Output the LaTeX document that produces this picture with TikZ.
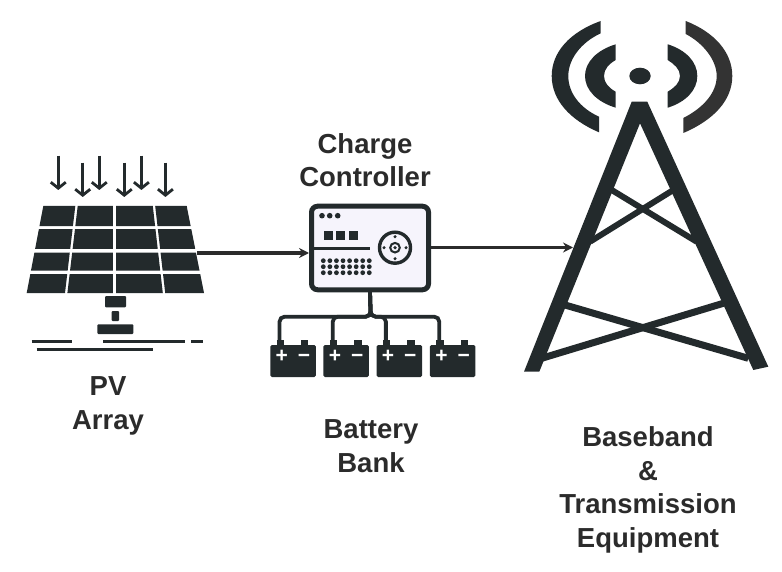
\documentclass[tikz,border=0pt]{standalone}
\usepackage{fontspec}
\setmainfont{Liberation Sans}
\usetikzlibrary{arrows.meta,calc}
\definecolor{icondark}{HTML}{232A2C}
\definecolor{textdark}{HTML}{2B2B2B}
\definecolor{wavegrey}{HTML}{333333}
\definecolor{screenfill}{HTML}{F6F4FC}
\tikzset{
  caption/.style={align=center,text=textdark,font=\fontsize{27.5}{33.5}\selectfont\bfseries},
  link/.style={draw=textdark,line width=3.2,-{Stealth[length=10,width=10]}},
  sunray/.style={draw=icondark,line width=2.8,-{Straight Barb[length=6,width=15,line width=2.8]}},
  busline/.style={draw=icondark,line width=3.8,rounded corners=5},
  groundline/.style={draw=icondark,line width=3},
  batbody/.style={fill=icondark,rounded corners=1.5,minimum width=45.5,minimum height=32,inner sep=0},
  batsign/.style={text=white,inner sep=0,font=\fontsize{21}{21}\selectfont\bfseries},
  brace/.style={draw=icondark,line width=6}
}
\begin{document}
\begin{tikzpicture}[x=1pt,y=-1pt]
  \useasboundingbox (0,0) rectangle (782,572);

  % pv array
  \coordinate (t0) at (43.3,206);   \coordinate (b0) at (26.7,293);
  \coordinate (t1) at (76.5,206);   \coordinate (b1) at (66.2,293);
  \coordinate (t2) at (114.5,206);  \coordinate (b2) at (114.5,293);
  \coordinate (t3) at (154,206);    \coordinate (b3) at (164,293);
  \coordinate (t4) at (186.7,206);  \coordinate (b4) at (204,293);
  \foreach \ra/\rb in {0/0.23,0.267/0.494,0.535/0.742,0.782/1}
    \foreach \ca/\cb/\ga/\gb in {0/1/0/1.2,1/2/1.2/1.6,2/3/1.6/1.2,3/4/1.2/0}
      \fill[icondark]
        ($(t\ca)!\ra!(b\ca)+(\ga,0)$) -- ($(t\cb)!\ra!(b\cb)+(-\gb,0)$) --
        ($(t\cb)!\rb!(b\cb)+(-\gb,0)$) -- ($(t\ca)!\rb!(b\ca)+(\ga,0)$) -- cycle;
  \fill[icondark,rounded corners=1] (105,296) rectangle (126,307.3);
  \fill[icondark,rounded corners=1] (111.7,311) rectangle (119,321);
  \fill[icondark,rounded corners=1] (97.3,324.3) rectangle (133.3,334);
  \draw[groundline] (31.7,341.7) -- (71.7,341.7);
  \draw[groundline] (103.3,341.7) -- (185,341.7);
  \draw[groundline] (191,341.7) -- (202.7,341.7);
  \draw[groundline] (36.7,349.3) -- (152.7,349.3);
  \foreach \x/\ya/\yb in {58.3/155.7/190,82.7/162.7/197,99.3/155.7/190,124.3/162.7/197,141.4/155.7/190,165.4/162.7/197}
    \draw[sunray] (\x,\ya) -- (\x,\yb);
  \coordinate (panelout) at (197,253);
  \node[caption] (pvlabel) at (108,406) {PV\\Array};

  % charge controller
  \node[draw=icondark,fill=screenfill,line width=5,rounded corners=6,minimum width=117,minimum height=83.5,inner sep=0] (controller) at (370,248) {};
  \foreach \x in {322,329.7,337.7}
    \fill[icondark] (\x,215.7) circle (2.8);
  \foreach \x in {324,336.3,349.3}
    \fill[icondark] (\x,231) rectangle +(8.6,9.4);
  \draw[icondark,line width=3] (314,248.3) -- (370,248.3);
  \foreach \i in {0,...,7}
    \foreach \y in {260.7,266.7,272.7}
      \fill[icondark] (323.3+6.57*\i,\y) circle (2.4);
  \draw[icondark,line width=3.4] (395,247.7) circle (15.5);
  \draw[icondark,line width=2] (395,247.7) circle (4.8);
  \fill[icondark] (395,247.7) circle (1.8);
  \foreach \a in {0,90,180,270}
    \fill[icondark] (395,247.7) +(\a:11) circle (1.7);
  \node[caption] (controllerlabel) at (365,160) {Charge\\Controller};

  % battery bank
  \coordinate (bus) at (370.7,316.7);
  \foreach \i/\x in {1/293,2/346.2,3/399.3,4/452.7} {
    \node[batbody] (bat\i) at (\x,361) {};
    \fill[icondark] ($(bat\i.north west)+(6.7,1)$) rectangle +(7.3,-6);
    \fill[icondark] ($(bat\i.north west)+(31,1)$) rectangle +(7.3,-6);
    \node[batsign] (plus\i) at ($(bat\i.north west)+(11.7,12)$) {+};
    \node[batsign] (minus\i) at ($(bat\i.north west)+(34,13.5)$) {\textminus};
    \coordinate (term\i) at ($(bat\i.north west)+(9.5,-2)$);
    \draw[busline] (controller.south) -- (bus) -- (bus -| term\i) -- (term\i);
  }
  \node[caption] (batterylabel) at (371,446) {Battery\\Bank};

  % tower
  \fill[icondark] (631.7,101.7) -- (647.3,101.7) -- (768.3,366.7) -- (753.3,370)
    -- (640,123.3) -- (539.3,371.7) -- (524,371.7) -- cycle;
  \draw[brace] (611.7,190) -- (696.7,241.7);
  \draw[brace] (673.3,190) -- (590,241.7);
  \draw[brace,line width=7] (565,305) -- (748.3,358.3);
  \draw[brace,line width=7] (723.3,303.3) -- (541.7,358.3);
  \coordinate (towerin) at (573,247.5);
  \fill[icondark] (640,76) ellipse (10.7 and 8.3);
  % inner waves
  \fill[icondark] (615.7,44.3) .. controls (597,50) and (585,62) .. (585,76)
    .. controls (585,90) and (597,102) .. (615.7,107.7) -- (615.7,91.7)
    .. controls (609,88) and (604,83) .. (604,76)
    .. controls (604,69) and (609,64) .. (615.7,60) -- cycle;
  \fill[icondark] (667.7,44.3) .. controls (686,50) and (697.3,62) .. (697.3,76)
    .. controls (697.3,90) and (686,102) .. (667.7,107.7) -- (667.7,91.7)
    .. controls (674,88) and (680,83) .. (680,76)
    .. controls (680,69) and (674,64) .. (667.7,60) -- cycle;
  % outer waves
  \fill[icondark] (600.7,21) .. controls (570,32) and (551.7,52) .. (551.7,76)
    .. controls (551.7,100) and (570,120) .. (599,132.3) -- (599,116.7)
    .. controls (580,108) and (568.3,93) .. (568.3,76)
    .. controls (568.3,60) and (580,43) .. (600.7,33.3) -- cycle;
  \fill[wavegrey] (685.7,21) .. controls (714,32) and (732.3,52) .. (732.3,76)
    .. controls (732.3,100) and (714,120) .. (683.3,133) -- (683.3,118)
    .. controls (703,108) and (716.7,93) .. (716.7,76)
    .. controls (716.7,60) and (703,43) .. (685.7,34) -- cycle;
  \node[caption] (towerlabel) at (648,490) {Baseband\\\&\\Transmission\\Equipment};

  % links
  \draw[link] (panelout) -- (panelout -| controller.west);
  \draw[link] (controller.east |- towerin) -- (towerin);
\end{tikzpicture}
\end{document}
